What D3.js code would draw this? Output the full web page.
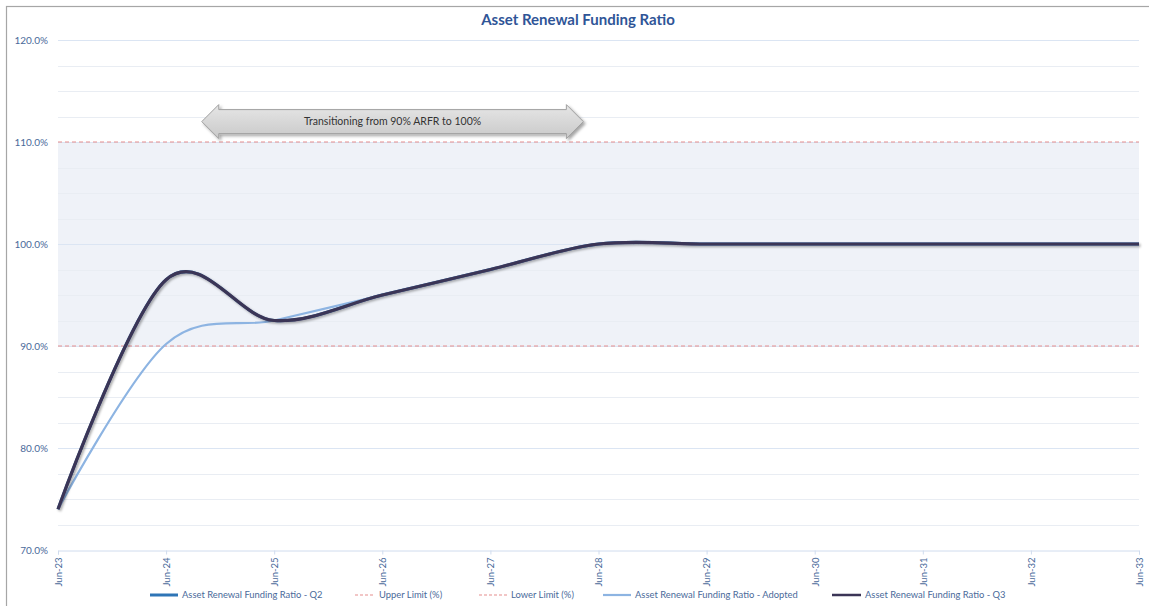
<!DOCTYPE html>
<html>
<head>
<meta charset="utf-8">
<script src="https://cdn.jsdelivr.net/npm/d3@7"></script>
<style>
  html, body { margin: 0; padding: 0; background: #fff; }
  svg { display: block; font-family: Lato, "Open Sans", "Liberation Sans", sans-serif; }
</style>
</head>
<body>
<svg id="chart" width="1149" height="606"></svg>
<script>
// Reporting periods (financial year ends)
const periods = ["Jun-23","Jun-24","Jun-25","Jun-26","Jun-27","Jun-28","Jun-29","Jun-30","Jun-31","Jun-32","Jun-33"];

// Asset renewal funding ratio (%) per period
const ratioQ2      = [74.0, 96.5, 92.5, 95.0, 97.5, 100.0, 100.0, 100.0, 100.0, 100.0, 100.0];
const ratioAdopted = [74.0, 90.2, 92.5, 95.0, 97.5, 100.0, 100.0, 100.0, 100.0, 100.0, 100.0];
const ratioQ3      = [74.0, 96.5, 92.5, 95.0, 97.5, 100.0, 100.0, 100.0, 100.0, 100.0, 100.0];
const upperLimit   = [110, 110, 110, 110, 110, 110, 110, 110, 110, 110, 110];
const lowerLimit   = [90, 90, 90, 90, 90, 90, 90, 90, 90, 90, 90];

// Value axis
const yTicks = [70, 80, 90, 100, 110, 120];
const yMinorStep = 2.5;

// Transition annotation (period index span, level)
const transitionText = "Transitioning from 90% ARFR to 100%";
const transitionSpan = [1.33, 4.86];
const transitionLevel = 112.0;

const chartTitle = "Asset Renewal Funding Ratio";

const svg = d3.select("#chart");
const W = 1149, H = 606;
const m = { left: 58, right: 10, top: 40, bottom: 56 };

const x = d3.scaleLinear().domain([0, periods.length - 1]).range([m.left, W - m.right]);
const y = d3.scaleLinear().domain([70, 120]).range([H - m.bottom, m.top]);

const defs = svg.append("defs");
const shadow = defs.append("filter").attr("id", "lineShadow")
  .attr("x", "-5%").attr("y", "-20%").attr("width", "110%").attr("height", "140%");
shadow.append("feDropShadow").attr("dx", 1.5).attr("dy", 1.5).attr("stdDeviation", 1)
  .attr("flood-color", "#000").attr("flood-opacity", 0.35);
const arrowShadow = defs.append("filter").attr("id", "arrowShadow")
  .attr("x", "-5%").attr("y", "-30%").attr("width", "110%").attr("height", "160%");
arrowShadow.append("feDropShadow").attr("dx", 2).attr("dy", 2).attr("stdDeviation", 1.5)
  .attr("flood-color", "#000").attr("flood-opacity", 0.35);
const grad = defs.append("linearGradient").attr("id", "arrowFill")
  .attr("x1", 0).attr("y1", 0).attr("x2", 0).attr("y2", 1);
grad.append("stop").attr("offset", "0%").attr("stop-color", "#e6e6e6");
grad.append("stop").attr("offset", "100%").attr("stop-color", "#c9c9c9");

// Outer chart frame
svg.append("rect").attr("x", 6.5).attr("y", 6.5).attr("width", 1200).attr("height", 700)
  .attr("fill", "none").attr("stroke", "#a6a6a6").attr("stroke-width", 1.2);

// Target band between the lower and upper limits
svg.append("rect")
  .attr("x", x(0)).attr("y", y(upperLimit[0]))
  .attr("width", x(periods.length - 1) - x(0))
  .attr("height", y(lowerLimit[0]) - y(upperLimit[0]))
  .attr("fill", "#eff2f8");

// Gridlines: minor then major
const minorVals = d3.range(70, 120.001, yMinorStep).filter(v => !yTicks.includes(v));
svg.append("g").selectAll("line").data(minorVals).join("line")
  .attr("x1", x(0)).attr("x2", x(periods.length - 1))
  .attr("y1", d => Math.round(y(d)) + 0.5).attr("y2", d => Math.round(y(d)) + 0.5)
  .attr("stroke", "#e9edf3").attr("stroke-width", 1);

svg.append("g").selectAll("line").data(yTicks.filter(v => v !== 70)).join("line")
  .attr("x1", x(0)).attr("x2", x(periods.length - 1))
  .attr("y1", d => Math.round(y(d)) + 0.5).attr("y2", d => Math.round(y(d)) + 0.5)
  .attr("stroke", "#dbe5f3").attr("stroke-width", 1);

// Y axis labels
const yAxis = d3.axisLeft(y).tickValues(yTicks).tickSize(0).tickPadding(10)
  .tickFormat(d => d.toFixed(1) + "%");
const gy = svg.append("g").attr("transform", `translate(${x(0)},0)`).call(yAxis);
gy.select(".domain").remove();
gy.selectAll("text").attr("fill", "#4a6a9a").attr("font-size", 10)
  .attr("font-family", "Lato, 'Open Sans', sans-serif");

// X axis
const xAxis = d3.axisBottom(x).tickValues(d3.range(periods.length))
  .tickSize(4).tickFormat(i => periods[i]);
const gx = svg.append("g").attr("transform", `translate(0,${Math.round(y(70)) + 0.5})`).call(xAxis);
gx.select(".domain").attr("stroke", "#d0dcee");
gx.selectAll(".tick line").attr("stroke", "#d0dcee");
gx.selectAll("text")
  .attr("fill", "#4a6a9a").attr("font-size", 9.5)
  .attr("font-family", "Lato, 'Open Sans', sans-serif")
  .attr("text-anchor", "end")
  .attr("transform", "rotate(-90)")
  .attr("x", -7).attr("y", 0).attr("dy", "0.35em");

// Limit lines
const line = d3.line().x((d, i) => x(i)).y(d => y(d));
const smooth = d3.line().x((d, i) => x(i)).y(d => y(d)).curve(d3.curveCardinal.tension(0));

svg.append("path").datum(upperLimit).attr("d", line)
  .attr("fill", "none").attr("stroke", "#e58e8e").attr("stroke-width", 1.1).attr("stroke-dasharray", "4,3");
svg.append("path").datum(lowerLimit).attr("d", line)
  .attr("fill", "none").attr("stroke", "#e58e8e").attr("stroke-width", 1.1).attr("stroke-dasharray", "4,3");

// Ratio series
svg.append("path").datum(ratioQ2).attr("d", smooth)
  .attr("fill", "none").attr("stroke", "#2e75b6").attr("stroke-width", 3);
svg.append("path").datum(ratioAdopted).attr("d", smooth)
  .attr("fill", "none").attr("stroke", "#8db4e2").attr("stroke-width", 2.2);
svg.append("path").datum(ratioQ3).attr("d", smooth)
  .attr("fill", "none").attr("stroke", "#3b3556").attr("stroke-width", 3.2)
  .attr("filter", "url(#lineShadow)");

// Transition annotation: double-headed block arrow
const ax0 = x(transitionSpan[0]), ax1 = x(transitionSpan[1]), ay = y(transitionLevel);
const bodyH = 12, headH = 17, headL = 17;
const arrowPts = [
  [ax0, ay], [ax0 + headL, ay - headH], [ax0 + headL, ay - bodyH],
  [ax1 - headL, ay - bodyH], [ax1 - headL, ay - headH], [ax1, ay],
  [ax1 - headL, ay + headH], [ax1 - headL, ay + bodyH],
  [ax0 + headL, ay + bodyH], [ax0 + headL, ay + headH]
];
svg.append("path")
  .attr("d", d3.line()(arrowPts) + "Z")
  .attr("fill", "url(#arrowFill)").attr("stroke", "#a0a0a0").attr("stroke-width", 1)
  .attr("filter", "url(#arrowShadow)");
svg.append("text")
  .attr("x", (ax0 + ax1) / 2).attr("y", ay).attr("dy", "0.35em")
  .attr("text-anchor", "middle").attr("font-size", 10.5).attr("fill", "#333")
  .text(transitionText);

// Title
svg.append("text")
  .attr("x", 578).attr("y", 25).attr("text-anchor", "middle")
  .attr("font-size", 15).attr("font-weight", "bold").attr("fill", "#2f5597")
  .text(chartTitle);

// Legend
const legendItems = [
  { label: "Asset Renewal Funding Ratio - Q2", color: "#2e75b6", width: 3, dash: null, x0: 150, len: 28 },
  { label: "Upper Limit (%)", color: "#e58e8e", width: 1.1, dash: "3,2", x0: 355, len: 20 },
  { label: "Lower Limit (%)", color: "#e58e8e", width: 1.1, dash: "3,2", x0: 479, len: 28 },
  { label: "Asset Renewal Funding Ratio - Adopted", color: "#8db4e2", width: 2.2, dash: null, x0: 603, len: 28 },
  { label: "Asset Renewal Funding Ratio - Q3", color: "#3b3556", width: 2.5, dash: null, x0: 832, len: 29 }
];
const ly = 595;
const lg = svg.append("g").selectAll("g").data(legendItems).join("g");
lg.append("line")
  .attr("x1", d => d.x0).attr("x2", d => d.x0 + d.len)
  .attr("y1", ly).attr("y2", ly)
  .attr("stroke", d => d.color).attr("stroke-width", d => d.width)
  .attr("stroke-dasharray", d => d.dash);
lg.append("text")
  .attr("x", d => d.x0 + d.len + 4).attr("y", ly).attr("dy", "0.35em")
  .attr("font-size", 9.4).attr("fill", "#4a6a9a")
  .text(d => d.label);
</script>
</body>
</html>
